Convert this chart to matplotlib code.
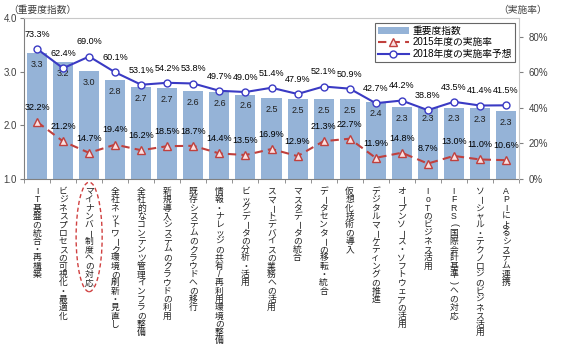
import matplotlib
matplotlib.use('Agg')
import matplotlib.pyplot as plt
from matplotlib.patches import Ellipse
from matplotlib.lines import Line2D
from matplotlib.patches import Patch

plt.rcParams['font.family'] = ['Liberation Sans', 'Noto Sans CJK JP', 'DejaVu Sans']

kategoriyalar = [
    'IT基盤の統合・再構築',
    'ビジネスプロセスの可視化・最適化',
    'マイナンバー制度への対応',
    '全社ネットワーク環境の刷新・見直し',
    '全社的なコンテンツ管理インフラの整備',
    '新規導入システムのクラウドの利用',
    '既存システムのクラウドへの移行',
    '情報・ナレッジの共有/再利用環境の整備',
    'ビッグデータの分析・活用',
    'スマートデバイスの業務への活用',
    'マスタデータの統合',
    'データセンターの移転・統合',
    '仮想化技術の導入',
    'デジタルマーケティングの推進',
    'オープンソース・ソフトウェアの活用',
    'IoTのビジネス活用',
    'IFRS(国際会計基準)への対応',
    'ソーシャル・テクノロジのビジネス活用',
    'APIによるシステム連携',
]
muhimlik = [3.34, 3.18, 3.01, 2.84, 2.71, 2.69, 2.64, 2.62, 2.57, 2.51,
            2.49, 2.49, 2.49, 2.43, 2.34, 2.33, 2.33, 2.32, 2.26]
muhimlik_yorliq = ['3.3', '3.2', '3.0', '2.8', '2.7', '2.7', '2.6', '2.6', '2.6', '2.5',
                   '2.5', '2.5', '2.5', '2.4', '2.3', '2.3', '2.3', '2.3', '2.3']
rate_2015 = [32.2, 21.2, 14.7, 19.4, 16.2, 18.5, 18.7, 14.4, 13.5, 16.9,
             12.9, 21.3, 22.7, 11.9, 14.8, 8.7, 13.0, 11.0, 10.6]
rate_2018 = [73.3, 62.4, 69.0, 60.1, 53.1, 54.2, 53.8, 49.7, 49.0, 51.4,
             47.9, 52.1, 50.9, 42.7, 44.2, 38.8, 43.5, 41.4, 41.5]

BAR_C = '#95B3D7'
BLUE = '#3A3AC4'
RED = '#C0403D'
GRAY = '#404040'

W, H = 567, 353
fig = plt.figure(figsize=(W / 100, H / 100), dpi=100)
ax = fig.add_axes([24 / W, 1 - 179 / H, (519 - 24) / W, (179 - 18) / H])
x = list(range(len(kategoriyalar)))

ax.bar(x, [v - 1 for v in muhimlik], bottom=1, width=0.77, color=BAR_C, zorder=1)
for i, (v, s) in enumerate(zip(muhimlik, muhimlik_yorliq)):
    ax.annotate(s, (i, v), xytext=(0, -8), textcoords='offset points',
                ha='center', va='center', fontsize=6.5, color='#202020', zorder=5)

ax.set_xlim(-0.5, len(x) - 0.5)
ax.set_ylim(1, 4)
ax.set_yticks([1, 2, 3, 4])
ax.set_yticklabels(['1.0', '2.0', '3.0', '4.0'], fontsize=7, color=GRAY)
ax.set_xticks([])
ax.set_xticks([i - 0.5 for i in range(len(x) + 1)], minor=True)
ax.tick_params(axis='x', which='minor', length=3, color='#808080')
ax.tick_params(axis='y', length=3, color='#808080', pad=2)
for side in ['left', 'bottom']:
    ax.spines[side].set_color('#808080')
ax.spines['top'].set_color('#C8C8C8')
ax.spines['right'].set_visible(False)

ax2 = ax.twinx()
ax2.set_ylim(0, 90.7)
ax2.set_yticks([0, 20, 40, 60, 80])
ax2.set_yticklabels(['0%', '20%', '40%', '60%', '80%'], fontsize=7, color=GRAY)
ax2.tick_params(axis='y', length=3, color='#808080', pad=4)
ax2.spines['right'].set_color('#C8C8C8')
for side in ['left', 'top', 'bottom']:
    ax2.spines[side].set_visible(False)

ax2.plot(x, rate_2015, color=RED, lw=1.5, ls=(0, (4, 2.5)), marker='^', ms=5.5,
         mfc='#FBE0E0', mec=RED, mew=1, zorder=3)
ax2.plot(x, rate_2018, color=BLUE, lw=1.5, marker='o', ms=5,
         mfc='white', mec=BLUE, mew=1, zorder=3)
for i in x:
    ax2.annotate(f'{rate_2015[i]:.1f}%', (i, rate_2015[i]), xytext=(0, 10.5),
                 textcoords='offset points', ha='center', va='center', fontsize=6.5)
    ax2.annotate(f'{rate_2018[i]:.1f}%', (i, rate_2018[i]), xytext=(0, 10.5),
                 textcoords='offset points', ha='center', va='center', fontsize=6.5)

# vertical (tategaki) category labels, one character at a time
rotate_chars = 'ー()（）'
for i, lab in enumerate(kategoriyalar):
    for j, ch in enumerate(lab):
        ax.annotate(ch, (i, 0), xycoords=('data', 'axes fraction'),
                    xytext=(0, -9 - j * 5.98), textcoords='offset points',
                    ha='center', va='center', fontsize=6.3, color='#202020',
                    rotation=-90 if ch in rotate_chars else 0, annotation_clip=False)

# dashed ellipse around the third category
ax.add_patch(Ellipse((2, -0.36), 1.0, 0.68, transform=ax.get_xaxis_transform(),
                     fill=False, ec='#D04040', ls=(0, (3, 2)), lw=1, clip_on=False))

handles = [
    Patch(facecolor=BAR_C, edgecolor='none'),
    Line2D([], [], color=RED, lw=1.5, ls=(0, (4, 2.5)), marker='^', ms=5.5,
           mfc='#FBE0E0', mec=RED, mew=1),
    Line2D([], [], color=BLUE, lw=1.5, marker='o', ms=5, mfc='white', mec=BLUE, mew=1),
]
leg = ax2.legend(handles, ['重要度指数', '2015年度の実施率', '2018年度の実施率予想'],
                 loc='upper right', bbox_to_anchor=(1 - 4 / 495, 1 - 5 / 161),
                 fontsize=7, frameon=True, fancybox=False, borderaxespad=0,
                 handlelength=3.2, handleheight=0.6, labelspacing=0.15,
                 borderpad=0.3, handletextpad=0.4)
leg.get_frame().set_edgecolor('#404040')
leg.get_frame().set_linewidth(0.8)

fig.text(8 / W, 1 - 10 / H, '（重要度指数）', fontsize=7, va='center', ha='left', color=GRAY)
fig.text(547 / W, 1 - 10 / H, '（実施率）', fontsize=7, va='center', ha='right', color=GRAY)

fig.savefig('out.png', dpi=100)
